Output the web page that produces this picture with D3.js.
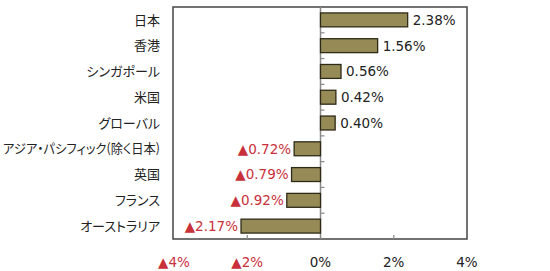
<!DOCTYPE html>
<html><head><meta charset="utf-8">
<script src="https://cdn.jsdelivr.net/npm/d3@7/dist/d3.min.js"></script>
<style>body{margin:0;background:#fff;}svg{display:block;} .cat{font-feature-settings:"palt" 1;}</style>
</head><body>
<svg id="c" width="550" height="271"></svg>
<script>
const categories = ["日本","香港","シンガポール","米国","グローバル","アジア・パシフィック(除く日本)","英国","フランス","オーストラリア"];
const values = [2.38,1.56,0.56,0.42,0.40,-0.72,-0.79,-0.92,-2.17];
const tickValues = [-4,-2,0,2,4];

(function(){
const svg = d3.select("#c");
const pLeft = 174, pRight = 467, pTop = 7, pBottom = 239;
const x = d3.scaleLinear().domain([-4,4]).range([pLeft,pRight]);
const y = d3.scaleBand().domain(categories).range([pTop,pBottom]).paddingInner(0.46).paddingOuter(0.23);
const red = "#c8303a";
const numFont = "'DejaVu Sans', Verdana, sans-serif";
const jpFont = "'Noto Sans CJK JP', sans-serif";
const fmt = v => (v < 0 ? "▲" : "") + Math.abs(v).toFixed(2) + "%";
const tfmt = v => (v < 0 ? "▲" : "") + Math.abs(v) + "%";

svg.append("rect").attr("x", pLeft-1).attr("y", pTop).attr("width", pRight-pLeft+1).attr("height", pBottom-pTop)
  .attr("fill","none").attr("stroke","#444").attr("stroke-width",1.5);

svg.append("line").attr("x1", x(0)).attr("x2", x(0)).attr("y1", pTop).attr("y2", pBottom)
  .attr("stroke","#888").attr("stroke-width",1.5);
const step = y.step();
d3.range(1, categories.length).forEach(i => {
  const yy = pTop + step*i;
  svg.append("line").attr("x1", x(0)).attr("x2", x(0)+4).attr("y1", yy).attr("y2", yy)
    .attr("stroke","#888").attr("stroke-width",1.2);
});
[-2,2].forEach(t => {
  svg.append("line").attr("x1", x(t)).attr("x2", x(t)).attr("y1", pBottom).attr("y2", pBottom-4)
    .attr("stroke","#888").attr("stroke-width",1.2);
});

svg.selectAll("rect.bar").data(values).enter().append("rect").attr("class","bar")
  .attr("x", d => x(Math.min(0,d)))
  .attr("y", (d,i) => y(categories[i]))
  .attr("width", d => Math.abs(x(d)-x(0)))
  .attr("height", y.bandwidth())
  .attr("fill","#968b57").attr("stroke","#2e2a18").attr("stroke-width",1.3);

svg.selectAll("text.val").data(values).enter().append("text").attr("class","val")
  .attr("x", d => d >= 0 ? x(d)+5 : x(d)-3)
  .attr("y", (d,i) => y(categories[i]) + y.bandwidth()/2)
  .attr("dy","0.36em")
  .attr("text-anchor", d => d >= 0 ? "start" : "end")
  .attr("font-family", numFont).attr("font-size", 13.5)
  .attr("fill", d => d >= 0 ? "#222" : red)
  .text(fmt);

const labelRight = 160, maxW = 157;
svg.selectAll("text.cat").data(categories).enter().append("text").attr("class","cat")
  .attr("x", labelRight)
  .attr("y", d => y(d) + y.bandwidth()/2)
  .attr("dy","0.36em")
  .attr("text-anchor","end")
  .attr("font-family", jpFont).attr("font-size", 13)
  .attr("fill","#222")
  .text(d => d)
  .each(function(){
    const w = this.getComputedTextLength();
    if (w > maxW) d3.select(this).attr("textLength", maxW).attr("lengthAdjust","spacingAndGlyphs");
  });

svg.selectAll("text.tick").data(tickValues).enter().append("text").attr("class","tick")
  .attr("x", d => x(d))
  .attr("y", 262).attr("dy","0.36em")
  .attr("text-anchor","middle")
  .attr("font-family", numFont).attr("font-size", 13.5)
  .attr("fill", d => d < 0 ? red : "#222")
  .text(tfmt);
})();
</script>
</body></html>
